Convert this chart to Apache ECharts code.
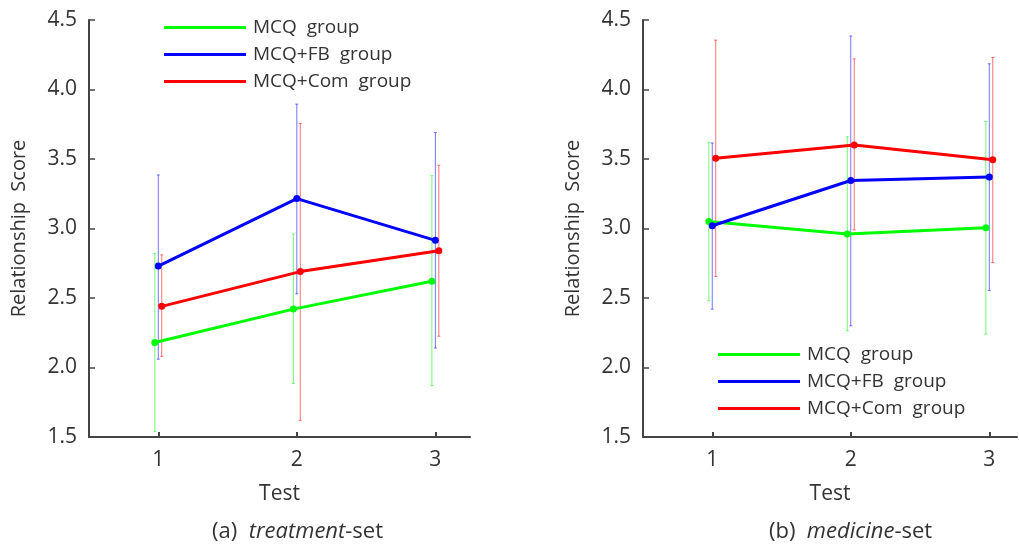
<!DOCTYPE html>
<html>
<head>
<meta charset="utf-8">
<script src="https://cdn.jsdelivr.net/npm/echarts@6/dist/echarts.min.js"></script>
<style>
  html, body { margin: 0; padding: 0; background: #fff; }
  #chart { width: 1019px; height: 548px; }
</style>
</head>
<body>
<div id="chart"></div>
<script>
// data
var tests = [1, 2, 3];
var groups = ['MCQ  group', 'MCQ+FB  group', 'MCQ+Com  group'];
var colors = ['#00ff00', '#0000ff', '#ff0000'];
var yTicks = [1.5, 2.0, 2.5, 3.0, 3.5, 4.0, 4.5];

// (a) treatment-set, one row per group
var treatMean = [[2.18, 2.42, 2.62], [2.73, 3.215, 2.915], [2.44, 2.69, 2.84]];
var treatLow  = [[1.54, 1.885, 1.87], [2.06, 2.53, 2.14], [2.08, 1.62, 2.225]];
var treatHigh = [[2.82, 2.96, 3.38], [3.385, 3.895, 3.69], [2.81, 3.755, 3.455]];

// (b) medicine-set
var medMean = [[3.05, 2.96, 3.005], [3.02, 3.345, 3.37], [3.505, 3.60, 3.495]];
var medLow  = [[2.48, 2.265, 2.24], [2.42, 2.30, 2.555], [2.655, 2.99, 2.755]];
var medHigh = [[3.62, 3.66, 3.77], [3.615, 4.385, 4.185], [4.355, 4.22, 4.23]];

var shift = [-0.025, 0, 0.025]; // small dodge so bars don't overlap
var font = '"Open Sans", "Noto Sans", sans-serif';
var textColor = '#333';

var chart = echarts.init(document.getElementById('chart'));

function errBar(params, api) {
  var x = api.value(0);
  var lo = api.coord([x, api.value(1)]);
  var hi = api.coord([x, api.value(2)]);
  var c = api.visual('color');
  var st = { stroke: c, lineWidth: 1, opacity: 0.55 };
  return {
    type: 'group',
    children: [
      { type: 'line', shape: { x1: lo[0], y1: lo[1], x2: hi[0], y2: hi[1] }, style: st },
      { type: 'line', shape: { x1: lo[0] - 1.5, y1: lo[1], x2: lo[0] + 1.5, y2: lo[1] }, style: st },
      { type: 'line', shape: { x1: hi[0] - 1.5, y1: hi[1], x2: hi[0] + 1.5, y2: hi[1] }, style: st }
    ]
  };
}

function makeSeries(idx, mean, low, high) {
  var out = [];
  groups.forEach(function (g, i) {
    var bars = [];
    var pts = [];
    tests.forEach(function (t, j) {
      bars.push([t + shift[i], low[i][j], high[i][j]]);
      pts.push([t + shift[i], mean[i][j]]);
    });
    out.push({
      name: g, type: 'custom', xAxisIndex: idx, yAxisIndex: idx,
      renderItem: errBar, data: bars, itemStyle: { color: colors[i] },
      silent: true, z: 1
    });
    out.push({
      name: g, type: 'line', xAxisIndex: idx, yAxisIndex: idx,
      data: pts, symbol: 'circle', symbolSize: 7,
      lineStyle: { width: 3, color: colors[i] },
      itemStyle: { color: colors[i] }, z: 3
    });
  });
  return out;
}

function xAx(idx, max) {
  return {
    type: 'value', gridIndex: idx, min: 0.5, max: max,
    name: 'Test', nameLocation: 'middle', nameGap: 47,
    nameTextStyle: { fontFamily: font, fontSize: 21, color: textColor },
    axisLine: { lineStyle: { color: '#444', width: 2 } },
    axisTick: { inside: true, length: 5, customValues: tests, lineStyle: { color: '#444', width: 2 } },
    axisLabel: { customValues: tests, margin: 13, fontFamily: font, fontSize: 21, color: textColor },
    splitLine: { show: false }
  };
}

function yAx(idx) {
  return {
    type: 'value', gridIndex: idx, min: 1.5, max: 4.5, interval: 0.5,
    name: 'Relationship  Score', nameLocation: 'middle', nameGap: 60, nameRotate: 90,
    nameTextStyle: { fontFamily: font, fontSize: 20, color: textColor },
    axisLine: { show: true, lineStyle: { color: '#444', width: 2 } },
    axisTick: { show: true, inside: true, length: 6, lineStyle: { color: '#444', width: 1.5 } },
    axisLabel: {
      margin: 12, fontFamily: font, fontSize: 21, color: textColor,
      formatter: function (v) { return yTicks.indexOf(v) >= 0 ? v.toFixed(1) : ''; }
    },
    splitLine: { show: false }
  };
}

function legend(left, top) {
  return {
    orient: 'vertical', left: left, top: top, data: groups,
    icon: 'rect', itemWidth: 82, itemHeight: 3, itemGap: 8,
    selectedMode: false,
    textStyle: { fontFamily: font, fontSize: 19, color: textColor, padding: [0, 0, 0, 2] }
  };
}

function caption(cx, tag, word) {
  return {
    type: 'text', left: cx - 87, top: 521,
    style: {
      text: tag + '  {i|' + word + '}-set', fontFamily: font, fontSize: 22, fill: textColor,
      rich: { i: { fontStyle: 'italic', fontFamily: font, fontSize: 22, fill: textColor } }
    }
  };
}

var option = {
  animation: false,
  grid: [
    { left: 89, top: 20, width: 381, height: 417 },
    { left: 643, top: 20, width: 374, height: 417 }
  ],
  xAxis: [xAx(0, 3.25), xAx(1, 3.2)],
  yAxis: [yAx(0), yAx(1)],
  legend: [legend(159, 13), legend(713, 340)],
  graphic: [
    caption(299, '(a)', 'treatment'),
    caption(856, '(b)', 'medicine')
  ],
  series: makeSeries(0, treatMean, treatLow, treatHigh)
    .concat(makeSeries(1, medMean, medLow, medHigh))
};

chart.setOption(option);
</script>
</body>
</html>
